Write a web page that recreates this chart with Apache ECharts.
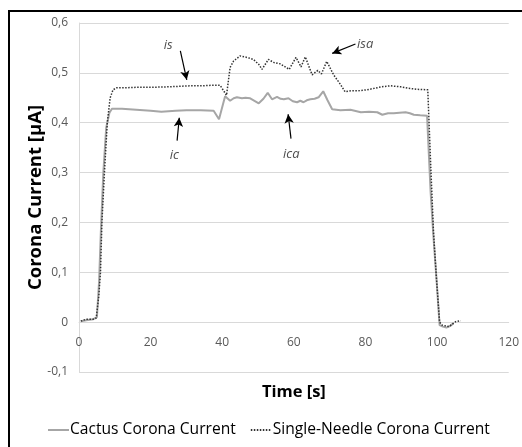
<!DOCTYPE html>
<html><head><meta charset="utf-8">
<script src="https://cdn.jsdelivr.net/npm/echarts@6/dist/echarts.min.js"></script>
<style>html,body{margin:0;padding:0;background:#fff}#c{width:522px;height:447px}</style>
</head><body><div id="c"></div>
<script>
var xTicks = [0, 20, 40, 60, 80, 100, 120];
var yTicks = [-0.1, 0, 0.1, 0.2, 0.3, 0.4, 0.5, 0.6];

var cactusTime = [0.5, 1, 2, 3, 4, 5, 5.6, 6.1, 6.8, 7.6, 8.5, 9.2, 12, 16, 20, 23, 27, 30, 34, 37.6, 39.1, 40.8, 42.2, 43.2, 44.1, 45.5, 46.5, 47.8, 49, 50.2, 51.5, 52.7, 53.9, 55.3, 56.3, 57.2, 58.5, 59.7, 60.9, 61.8, 62.7, 63.6, 64.6, 65.8, 66.9, 68.2, 69.4, 70.7, 73, 75.8, 78.7, 81, 83.3, 84.7, 86.3, 87.9, 89.5, 91.2, 92.4, 93.5, 95.3, 97.2, 98.2, 99, 99.8, 100.7, 101.6, 102.6, 103.6, 104.6];
var cactusValues = [0.002, 0.003, 0.004, 0.005, 0.006, 0.01, 0.08, 0.18, 0.30, 0.39, 0.42, 0.428, 0.428, 0.426, 0.424, 0.422, 0.424, 0.425, 0.425, 0.424, 0.407, 0.453, 0.444, 0.449, 0.451, 0.449, 0.450, 0.449, 0.444, 0.439, 0.448, 0.460, 0.447, 0.452, 0.448, 0.447, 0.449, 0.443, 0.441, 0.444, 0.441, 0.445, 0.447, 0.448, 0.451, 0.463, 0.445, 0.427, 0.425, 0.426, 0.421, 0.422, 0.421, 0.416, 0.419, 0.419, 0.420, 0.421, 0.419, 0.416, 0.415, 0.414, 0.26, 0.17, 0.09, -0.006, -0.009, -0.011, -0.008, -0.002];

var needleTime = [0.5, 1, 2, 3, 4, 4.8, 5.5, 6.0, 6.4, 7.1, 7.9, 8.7, 9.5, 10.5, 13, 16, 20, 25, 28, 31, 34, 37, 39.4, 41.2, 42.2, 43.2, 45.0, 46.9, 48.7, 50.2, 51.1, 52.9, 54.3, 56.2, 58.7, 60.6, 62.0, 63.2, 65.1, 66.7, 67.7, 69.2, 71.1, 73.0, 74.3, 76, 78, 80.4, 82.5, 84.5, 87, 89.8, 92, 94.5, 97.4, 98.3, 99.0, 99.8, 100.7, 101.4, 103.3, 105.2, 106.6];
var needleValues = [0.002, 0.004, 0.006, 0.006, 0.006, 0.008, 0.05, 0.10, 0.20, 0.30, 0.40, 0.45, 0.466, 0.470, 0.470, 0.471, 0.471, 0.472, 0.473, 0.474, 0.474, 0.475, 0.475, 0.455, 0.511, 0.524, 0.534, 0.531, 0.527, 0.517, 0.507, 0.527, 0.521, 0.518, 0.507, 0.531, 0.512, 0.532, 0.496, 0.505, 0.498, 0.523, 0.496, 0.477, 0.462, 0.464, 0.464, 0.466, 0.469, 0.472, 0.474, 0.472, 0.469, 0.467, 0.466, 0.30, 0.18, 0.09, 0.0, -0.006, -0.009, 0.001, 0.003];

var annotLabels = ['is', 'ic', 'isa', 'ica'];
var annotTextPos = [[24.9, 0.556], [26.6, 0.334], [79.9, 0.558], [59.3, 0.336]];
var annotArrowFrom = [[28.3, 0.544], [27.4, 0.364], [77.2, 0.558], [59.2, 0.368]];
var annotArrowTo = [[30.1, 0.486], [28.0, 0.410], [70.7, 0.539], [58.4, 0.417]];

function zip(a, b) { return a.map(function (x, i) { return [x, b[i]]; }); }

var chart = echarts.init(document.getElementById('c'), null, {renderer: 'canvas'});
var FONT = 'Open Sans';
chart.setOption({
  animation: false,
  backgroundColor: '#fff',
  textStyle: {fontFamily: FONT},
  graphic: [{
    type: 'rect', shape: {x: 9, y: 11, width: 530, height: 460},
    style: {fill: 'none', stroke: '#000', lineWidth: 2}, silent: true, z: 100
  }],
  grid: {left: 79, right: 13, top: 23, bottom: 75},
  legend: {
    bottom: 4, left: 42, itemWidth: 21, itemHeight: 10, itemGap: 14,
    data: ['Cactus Corona Current', 'Single-Needle Corona Current'],
    itemStyle: {opacity: 0},
    textStyle: {fontFamily: FONT, fontSize: 15.6, color: '#000', padding: [0, 0, 0, -4]}
  },
  xAxis: {
    type: 'value', min: 0, max: 120, interval: 20,
    offset: -50,
    name: 'Time [s]', nameLocation: 'middle', nameGap: 62,
    nameMoveOverlap: false,
    nameTextStyle: {fontFamily: FONT, fontSize: 16.5, fontWeight: 'bold', color: '#000'},
    axisLine: {onZero: false, lineStyle: {color: '#d9d9d9', width: 1}},
    axisTick: {show: false},
    splitLine: {show: false},
    axisLabel: {margin: 15, fontSize: 12, color: '#595959', fontFamily: FONT}
  },
  yAxis: {
    type: 'value', min: -0.1, max: 0.6, interval: 0.1,
    name: 'Corona Current [µA]', nameLocation: 'middle', nameGap: 34,
    nameMoveOverlap: false,
    nameTextStyle: {fontFamily: FONT, fontSize: 18.5, fontWeight: 'bold', color: '#000'},
    axisLine: {show: true, onZero: false, lineStyle: {color: '#d9d9d9', width: 1}},
    axisTick: {show: false},
    splitLine: {show: true, lineStyle: {color: '#d9d9d9', width: 1}},
    axisLabel: {margin: 11, fontSize: 12, color: '#595959', fontFamily: FONT,
      formatter: function (v) { var r = Math.round(v * 10) / 10; return String(r).replace('.', ','); }}
  },
  series: [
    {
      name: 'Cactus Corona Current', type: 'line', symbol: 'none', smooth: false,
      data: zip(cactusTime, cactusValues),
      lineStyle: {color: '#a6a6a6', width: 2}, itemStyle: {color: '#a6a6a6'}, z: 2
    },
    {
      name: 'Single-Needle Corona Current', type: 'line', symbol: 'none', smooth: false,
      data: zip(needleTime, needleValues),
      lineStyle: {color: '#333', width: 1.5, type: [1.5, 1.5]}, itemStyle: {color: '#333'}, z: 3,
      markLine: {
        silent: true, animation: false, symbol: ['none', 'arrow'], symbolSize: [7, 9],
        label: {show: false},
        lineStyle: {color: '#000', width: 1.2, type: 'solid'},
        data: annotArrowFrom.map(function (f, i) {
          return [{coord: f}, {coord: annotArrowTo[i]}];
        })
      }
    },
    {
      name: 'annot', type: 'scatter', symbolSize: 0, silent: true,
      data: annotTextPos.map(function (p, i) { return [p[0], p[1], annotLabels[i]]; }),
      label: {show: true, position: 'inside', formatter: function (p) { return p.data[2]; },
        fontFamily: FONT, fontSize: 13, fontStyle: 'italic', color: '#222'}
    }
  ]
});
</script></body></html>
